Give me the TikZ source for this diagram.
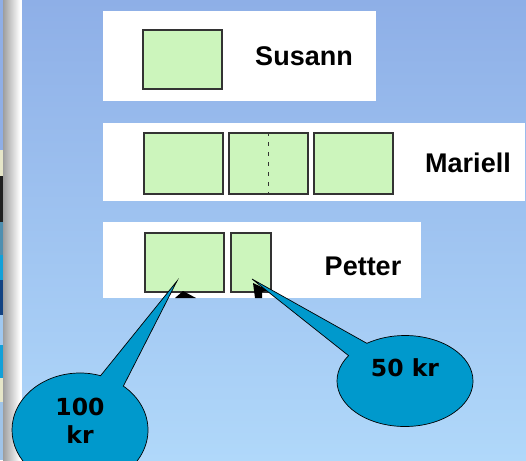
\documentclass[tikz,border=0pt]{standalone}
\usepackage{fontspec}
\setmainfont{Liberation Sans}
\newfontfamily\calloutfont{DejaVu Sans}
\usetikzlibrary{shapes.callouts}
\definecolor{bgtop}{HTML}{8EAFE7}
\definecolor{bgbot}{HTML}{B0D8FA}
\definecolor{cellgreen}{HTML}{CCF5BC}
\definecolor{cellline}{HTML}{333333}
\definecolor{callblue}{HTML}{0099CC}
\begin{document}
\begin{tikzpicture}[x=1pt,y=-1pt,
  panel/.style={fill=white,draw=none},
  cell/.style={fill=cellgreen,draw=cellline,line width=1.1pt,inner sep=0pt},
  label/.style={font=\fontsize{27}{30}\selectfont\bfseries,inner sep=0pt},
  bubble/.style={ellipse callout,fill=callblue,draw=black,line width=0.7pt,
    inner sep=0pt,callout pointer arc=22},
  bubbletext/.style={font=\calloutfont\fontsize{23.5}{28}\selectfont\bfseries,
    align=center,inner sep=0pt}]
\useasboundingbox (0,0) rectangle (526,460);

% slide background
\shade[top color=bgtop,bottom color=bgbot] (22,0) rectangle (526,460);
% left margin: coloured edge strip and grey fade
\foreach \ya/\yb/\c in {0/150/8FAEE6,150/176/E6E6C8,176/222/202020,
    222/255/4F8FB0,255/280/12A0D8,280/315/124282,315/345/A0C8F0,
    345/378/12A0D8,378/402/E6E6C8,402/460/A0C4E8}
  {\definecolor{bandc}{HTML}{\c}\fill[bandc] (0,\ya) rectangle (3,\yb);}
\shade[left color=black!38,right color=white] (3,0) rectangle (20,460);
\fill[white] (20,0) rectangle (22,460);

% white panels
\fill[panel] (103,11) rectangle (376,101);
\fill[panel] (103,123) rectangle (525,201);
\fill[panel] (103,222) rectangle (421,298);

% Susann
\node[cell,minimum width=79pt,minimum height=59pt] (s1) at (182.5,59.5) {};
\node[label] (sname) at (304,56) {Susann};

% Mariell
\node[cell,minimum width=79pt,minimum height=61pt] (m1) at (183.5,163.5) {};
\node[cell,minimum width=79pt,minimum height=61pt] (m2) at (268.5,163.5) {};
\node[cell,minimum width=79pt,minimum height=61pt] (m3) at (353.5,163.5) {};
\draw[cellline,line width=1.1pt,dash pattern=on 4pt off 6pt]
  (m2.north) -- (m2.south);
\node[label] (mname) at (468,163) {Mariell};

% Petter
\node[cell,minimum width=79pt,minimum height=59pt] (p1) at (184.5,262.5) {};
\node[cell,minimum width=40pt,minimum height=59pt] (p2) at (251,262.5) {};
\node[label] (pname) at (363,266) {Petter};

% arrow heads at the cell edges
\fill[black] (175,298) -- (183,291) -- (196,298) -- cycle;
\fill[black] (253,283) -- (268,290) -- (262,292) -- (262,298) -- (255,298) -- cycle;

% callouts
\coordinate (tip1) at (177,281);
\coordinate (tip2) at (252,279);
\node[bubble,minimum width=136pt,minimum height=114pt,
  callout absolute pointer=(tip1)] (b100) at (80,430) {};
\node[bubbletext] (t100) at (80,421) {100\\kr};
\node[bubble,minimum width=136pt,minimum height=91pt,
  callout absolute pointer=(tip2)] (b50) at (405,381) {};
\node[bubbletext] (t50) at (405,368) {50 kr};
\end{tikzpicture}
\end{document}
